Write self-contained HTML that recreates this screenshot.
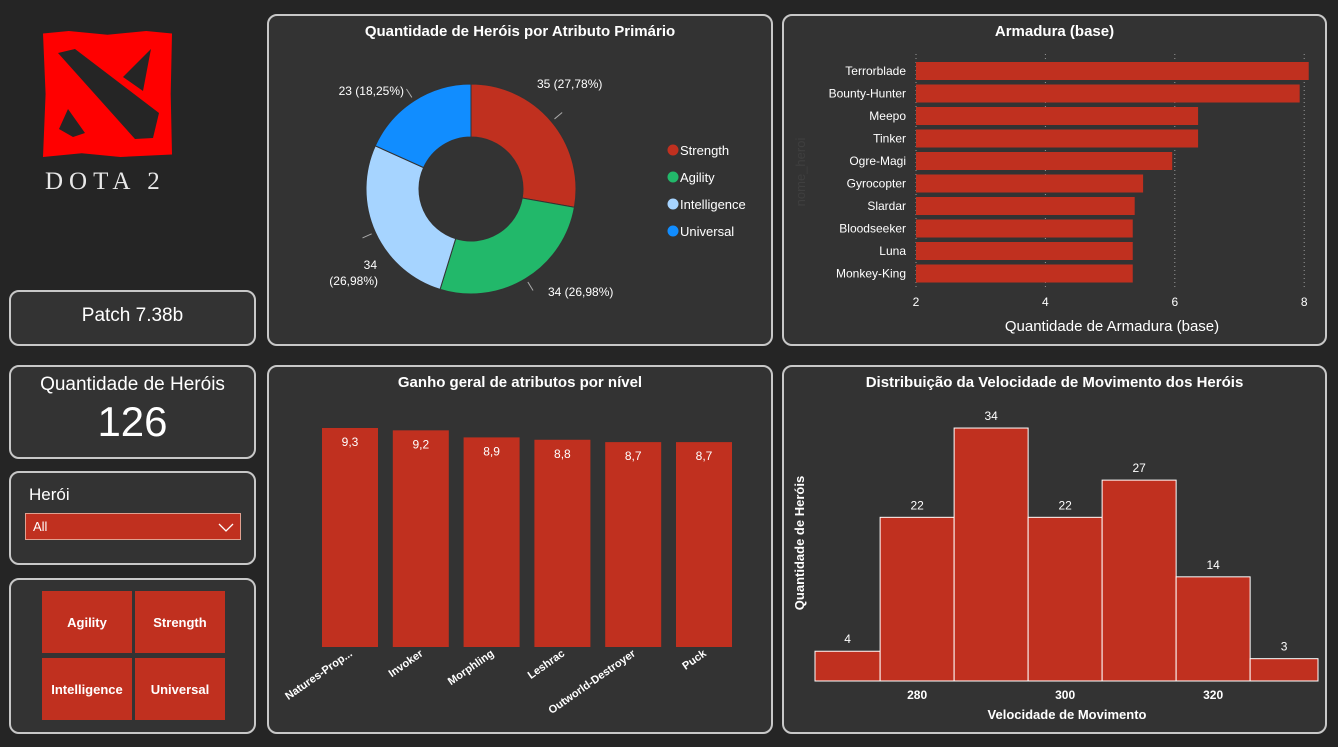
<!DOCTYPE html>
<html><head><meta charset="utf-8">
<style>
body{margin:0;width:1338px;height:747px;background:#252525;font-family:"Liberation Sans",sans-serif;color:#fff;overflow:hidden;position:relative}
.panel{position:absolute;background:#333;border:2px solid #c8c8c8;border-radius:10px;box-sizing:border-box}
.title{position:absolute;left:0;right:0;text-align:center;font-weight:bold;font-size:15px;top:7px}
svg{position:absolute;left:0;top:0}
.btn{position:absolute;background:#c0301f;font-weight:bold;font-size:13px;display:flex;align-items:center;justify-content:center;width:90px;height:62px}
</style></head><body>
<div style="position:absolute;left:43px;top:31px;width:129px;height:126px;background:#f00;clip-path:polygon(0 2%,20% 0,50% 3%,80% 0,100% 2%,99% 50%,100% 98%,60% 100%,30% 97%,0 100%,2% 50%)">
<svg width="129" height="126" viewBox="0 0 129 126"><polygon points="15,22 32,18 116,82 110,107 92,108" fill="#252525"/><polygon points="107,23 100,60 80,46 108,18" fill="#252525"/><polygon points="16,98 25,78 42,102 30,106" fill="#252525"/></svg></div>
<div style="position:absolute;left:45px;top:168px;font-family:'Liberation Serif',serif;font-size:25px;letter-spacing:6px;color:#e8e8e8">DOTA 2</div>

<div class="panel" style="left:9px;top:290px;width:247px;height:56px"><div style="text-align:center;font-size:19px;margin-top:13px">Patch 7.38b</div></div>
<div class="panel" style="left:9px;top:365px;width:247px;height:94px"><div style="text-align:center;font-size:19px;margin-top:7px">Quantidade de Heróis</div><div style="text-align:center;font-size:42px;margin-top:2px">126</div></div>
<div class="panel" style="left:9px;top:471px;width:247px;height:94px"><div style="font-size:17px;margin:12px 0 0 18px">Herói</div>
<div style="position:absolute;left:14px;top:40px;width:216px;height:27px;background:#c0301f;border:1px solid #e0a090;box-sizing:border-box;font-size:13px;line-height:25px;padding-left:7px">All<svg width="16" height="10" style="left:192px;top:9px"><polyline points="1,1 8,8 15,1" fill="none" stroke="#fff" stroke-width="1.3"/></svg></div></div>
<div class="panel" style="left:9px;top:578px;width:247px;height:156px">
<div class="btn" style="left:31px;top:11px">Agility</div>
<div class="btn" style="left:124px;top:11px">Strength</div>
<div class="btn" style="left:31px;top:78px">Intelligence</div>
<div class="btn" style="left:124px;top:78px">Universal</div></div>

<div class="panel" style="left:267px;top:14px;width:506px;height:332px"><div class="title">Quantidade de Heróis por Atributo Primário</div></div>
<div class="panel" style="left:782px;top:14px;width:545px;height:332px"><div class="title">Armadura (base)</div></div>
<div class="panel" style="left:267px;top:365px;width:506px;height:369px"><div class="title">Ganho geral de atributos por nível</div></div>
<div class="panel" style="left:782px;top:365px;width:545px;height:369px"><div class="title">Distribuição da Velocidade de Movimento dos Heróis</div></div>

<svg id="chart" width="1338" height="747" font-family="Liberation Sans, sans-serif"></svg>
<script>
const attrNames=["Strength","Agility","Intelligence","Universal"];
const attrCounts=[35,34,34,23];
const attrColors=["#c0301f","#22b86a","#a6d4ff","#118dff"];
const armorHeroes=["Terrorblade","Bounty-Hunter","Meepo","Tinker","Ogre-Magi","Gyrocopter","Slardar","Bloodseeker","Luna","Monkey-King"];
const armorValues=[8.07,7.93,6.36,6.36,5.96,5.51,5.38,5.35,5.35,5.35];
const armorTicks=[2,4,6,8];
const gainHeroes=["Natures-Prop...","Invoker","Morphling","Leshrac","Outworld-Destroyer","Puck"];
const gainValues=[9.3,9.2,8.9,8.8,8.7,8.7];
const msBinStarts=[265,275,285,295,305,315,325];
const msCounts=[4,22,34,22,27,14,3];
const msTicks=[280,300,320];

const S=document.getElementById('chart');const NS="http://www.w3.org/2000/svg";
function mk(t,a,txt){const e=document.createElementNS(NS,t);for(const k in a)e.setAttribute(k,a[k]);if(txt!==undefined)e.textContent=txt;S.appendChild(e);return e;}

// Donut
const cx=471,cy=189,R=105,r=52;const tot=attrCounts.reduce((a,b)=>a+b,0);let ang=0;
const lblPos=[[537,84,"start"],[548,292,"start"],[377,270,"end"],[404,91,"end"]];
attrCounts.forEach((v,i)=>{const a0=ang,a1=ang+v/tot*2*Math.PI;ang=a1;
 const p=(a,rad)=>[cx+rad*Math.sin(a),cy-rad*Math.cos(a)];
 const [x0,y0]=p(a0,R),[x1,y1]=p(a1,R),[x2,y2]=p(a1,r),[x3,y3]=p(a0,r);const lg=(a1-a0)>Math.PI?1:0;
 const e=mk('path',{d:`M${x0},${y0}A${R},${R} 0 ${lg} 1 ${x1},${y1}L${x2},${y2}A${r},${r} 0 ${lg} 0 ${x3},${y3}Z`,fill:attrColors[i],stroke:"#333","stroke-width":1});
 
 
 const pct=(v/tot*100).toFixed(2).replace('.',',');
 const am=(a0+a1)/2;const [ex,ey]=p(am,R+4);const [lx,ly]=p(am,R+14);
 mk('polyline',{points:`${ex},${ey} ${lx},${ly}`,stroke:"#aaa",fill:"none"});
 const lp=lblPos[i];
 if(i==2){const t=mk('text',{x:lp[0],y:lp[1]-1,fill:"#fff","font-size":12,"text-anchor":"end"},v);
  const t2=mk('text',{x:lp[0]+1,y:lp[1]+15,fill:"#fff","font-size":12,"text-anchor":"end"},'('+pct+'%)');}
 else{const t=mk('text',{x:lp[0],y:lp[1]+4,fill:"#fff","font-size":12,"text-anchor":lp[2]},v+' ('+pct+'%)');}
 const ly2=150+i*27;const c=mk('circle',{cx:673,cy:ly2,r:5.5,fill:attrColors[i]});
 const t=mk('text',{x:680,y:ly2+5,fill:"#fff","font-size":13},attrNames[i]);
});

// Armor
const ax=v=>916+(v-2)*64.7;const ay=i=>60+i*22.5;
armorTicks.forEach(t=>{const l=mk('line',{x1:ax(t),x2:ax(t),y1:54,y2:290,stroke:"#999","stroke-dasharray":"1,3"});
 const e=mk('text',{x:ax(t),y:306,fill:"#fff","font-size":12,"text-anchor":"middle"},t);});
armorHeroes.forEach((h,i)=>{const b=mk('rect',{x:ax(2),y:ay(i)+2,width:ax(armorValues[i])-ax(2),height:18,fill:"#c0301f"});
 const t=mk('text',{x:906,y:ay(i)+15,fill:"#fff","font-size":12,"text-anchor":"end"},h);});
let e=mk('text',{x:1112,y:331,fill:"#fff","font-size":15,"text-anchor":"middle"},"Quantidade de Armadura (base)");
e=mk('text',{x:805,y:172,fill:"#3f3f3f","font-size":13,"text-anchor":"middle",transform:"rotate(-90 805 172)"},"nome_heroi");

// Attribute gain
const gy=v=>647-v*23.55;
gainHeroes.forEach((h,i)=>{const x=322+i*70.8;const b=mk('rect',{x:x,y:gy(gainValues[i]),width:56,height:647-gy(gainValues[i]),fill:"#c0301f"});
 const v=mk('text',{x:x+28,y:gy(gainValues[i])+18,fill:"#fff","font-size":12,"text-anchor":"middle"},String(gainValues[i]).replace('.',','));
 const tx=x+31,ty=655;const t=mk('text',{x:tx,y:ty,fill:"#fff","font-size":11,"font-weight":"bold","text-anchor":"end",transform:`rotate(-35 ${tx} ${ty})`},h);});

// Histogram
const hx=v=>815+(v-266.2)*7.4;const hy=c=>681-c*7.44;
msCounts.forEach((c,i)=>{const x0=Math.max(815,hx(msBinStarts[i])),x1=Math.min(1318,hx(msBinStarts[i]+10));
 const b=mk('rect',{x:x0,y:hy(c),width:x1-x0,height:681-hy(c),fill:"#c0301f",stroke:"#fff","stroke-width":1});
 const t=mk('text',{x:(x0+x1)/2,y:hy(c)-8,fill:"#fff","font-size":12,"text-anchor":"middle"},c);});
msTicks.forEach(t=>{const e=mk('text',{x:hx(t),y:699,fill:"#fff","font-size":12,"font-weight":"bold","text-anchor":"middle"},t);});
e=mk('text',{x:1067,y:719,fill:"#fff","font-size":13,"font-weight":"bold","text-anchor":"middle"},"Velocidade de Movimento");
e=mk('text',{x:804,y:543,fill:"#fff","font-size":13,"font-weight":"bold","text-anchor":"middle",transform:"rotate(-90 804 543)"},"Quantidade de Heróis");
</script>
</body></html>
